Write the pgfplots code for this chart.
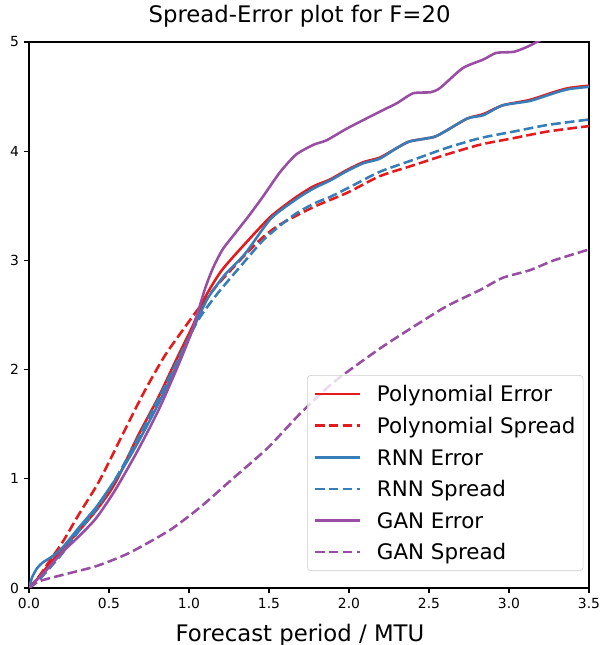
\documentclass[border=0pt]{standalone}
\usepackage{pgfplots}
\pgfplotsset{compat=1.18}
\usepackage{fontspec}
\setmainfont{DejaVu Sans}

\definecolor{polyred}{HTML}{E41A1C}
\definecolor{rnnblue}{HTML}{377EB8}
\definecolor{ganpurple}{HTML}{984EA3}

\begin{document}
\begin{tikzpicture}
\begin{axis}[
    scale only axis,
    width=403.2pt, height=393.1pt,
    xmin=0, xmax=3.5,
    ymin=0, ymax=5,
    xtick={0,0.5,1,1.5,2,2.5,3,3.5},
    ytick={0,1,2,3,4,5},
    xticklabel style={/pgf/number format/fixed, /pgf/number format/fixed zerofill,
        /pgf/number format/precision=1, yshift=-3.5pt},
    yticklabel style={xshift=-3.5pt},
    tick label style={font=\fontsize{10}{12}\selectfont, inner sep=0pt},
    /pgf/number format/assume math mode=true,
    tick align=outside,
    xtick pos=bottom, ytick pos=left,
    major tick length=3.5pt,
    every tick/.style={black, line width=0.8pt},
    axis line style={black, line width=0.8pt},
    title={Spread-Error plot for F=20},
    title style={at={(0.5,1)}, anchor=base, yshift=7.7pt, xshift=-6.8pt,
        font=\fontsize{16.4}{19}\selectfont, inner sep=0pt},
    xlabel={Forecast period / MTU},
    xlabel style={at={(0.5,0)}, anchor=base, yshift=-38.2pt, xshift=-6.5pt,
        font=\fontsize{16.4}{19}\selectfont, inner sep=0pt},
    legend cell align=left,
    legend image code/.code={\draw[#1, line width=1.85pt] (0pt,0pt) -- (32.8pt,0pt);},
    legend style={
        at={(0.9898,0.0311)}, anchor=south east,
        font=\fontsize{15.4}{18}\selectfont,
        draw=black!20, rounded corners=2.5pt,
        fill=white, fill opacity=0.8, draw opacity=1, text opacity=1,
        inner xsep=4.5pt, inner ysep=7pt,
        row sep=9.5pt,
        nodes={inner sep=1pt, text height=11.2pt, text depth=0pt},
        /tikz/every odd column/.append style={column sep=10pt},
    },
    every axis plot/.append style={line width=1.85pt, smooth, tension=0.4},
    dashpat/.style={dash pattern=on 7pt off 3pt},
]

% Polynomial Error
\addplot[polyred] coordinates {
(0,0)(0.05,0.08)(0.1,0.17)(0.21,0.36)(0.31,0.52)(0.42,0.71)(0.5,0.87)(0.56,1.02)
(0.68,1.39)(0.81,1.75)(0.93,2.12)(1.02,2.39)(1.10,2.66)(1.20,2.90)(1.33,3.12)
(1.51,3.40)(1.67,3.58)(1.78,3.68)(1.88,3.74)(1.99,3.83)(2.09,3.90)(2.19,3.94)
(2.30,4.03)(2.38,4.09)(2.53,4.13)(2.61,4.19)(2.74,4.30)(2.84,4.34)(2.96,4.42)
(3.13,4.47)(3.30,4.55)(3.38,4.58)(3.5,4.60)
};
\addlegendentry{Polynomial Error}

% Polynomial Spread
\addplot[polyred, dashpat] coordinates {
(0,0)(0.06,0.10)(0.125,0.24)(0.21,0.42)(0.31,0.67)(0.42,0.93)(0.475,1.08)
(0.60,1.45)(0.725,1.81)(0.85,2.13)(0.975,2.39)(1.06,2.56)(1.18,2.78)(1.35,3.05)
(1.46,3.21)(1.57,3.33)(1.78,3.49)(1.99,3.62)(2.19,3.77)(2.40,3.87)(2.61,3.97)
(2.82,4.06)(3.03,4.12)(3.24,4.18)(3.5,4.23)
};
\addlegendentry{Polynomial Spread}

% RNN Error
\addplot[rnnblue] coordinates {
(0,0)(0.02,0.10)(0.05,0.18)(0.083,0.23)(0.146,0.29)(0.21,0.37)(0.31,0.55)
(0.42,0.74)(0.52,0.95)(0.58,1.08)(0.68,1.33)(0.81,1.69)(0.93,2.06)(1.04,2.42)
(1.12,2.66)(1.225,2.87)(1.35,3.06)(1.51,3.38)(1.67,3.56)(1.78,3.66)(1.88,3.73)
(1.99,3.82)(2.09,3.89)(2.19,3.93)(2.30,4.03)(2.38,4.09)(2.53,4.13)(2.61,4.19)
(2.74,4.30)(2.84,4.33)(2.96,4.42)(3.13,4.46)(3.30,4.54)(3.38,4.57)(3.5,4.59)
};
\addlegendentry{RNN Error}

% RNN Spread
\addplot[rnnblue, dashpat] coordinates {
(0,0)(0.06,0.07)(0.21,0.32)(0.31,0.52)(0.42,0.72)(0.5,0.90)(0.6,1.15)(0.71,1.45)
(0.85,1.85)(0.95,2.15)(1.06,2.46)(1.18,2.70)(1.33,2.96)(1.46,3.18)(1.57,3.32)
(1.67,3.43)(1.78,3.52)(1.88,3.58)(1.99,3.66)(2.19,3.81)(2.40,3.92)(2.61,4.03)
(2.82,4.12)(3.03,4.18)(3.24,4.24)(3.5,4.29)
};
\addlegendentry{RNN Spread}

% GAN Error
\addplot[ganpurple] coordinates {
(0,0)(0.1,0.15)(0.21,0.33)(0.31,0.47)(0.42,0.64)(0.54,0.90)(0.68,1.26)(0.81,1.63)
(0.93,2.03)(1.02,2.36)(1.10,2.74)(1.15,2.93)(1.21,3.10)(1.30,3.27)(1.38,3.42)
(1.46,3.58)(1.57,3.81)(1.67,3.97)(1.78,4.06)(1.86,4.10)(1.99,4.21)(2.19,4.36)
(2.30,4.44)(2.40,4.53)(2.51,4.54)(2.57,4.58)(2.71,4.76)(2.84,4.84)(2.92,4.90)
(3.03,4.91)(3.12,4.96)(3.20,5.02)(3.35,5.12)(3.5,5.20)
};
\addlegendentry{GAN Error}

% GAN Spread
\addplot[ganpurple, dashpat] coordinates {
(0,0)(0.06,0.06)(0.21,0.12)(0.42,0.20)(0.625,0.32)(0.88,0.53)(1.07,0.74)
(1.28,1.01)(1.49,1.28)(1.69,1.59)(1.90,1.88)(2.19,2.19)(2.40,2.39)(2.61,2.58)
(2.82,2.73)(2.96,2.84)(3.13,2.91)(3.28,3.00)(3.5,3.10)
};
\addlegendentry{GAN Spread}

\end{axis}
\pgfresetboundingbox
\path[use as bounding box] ([xshift=-20.88pt,yshift=-41.04pt]current axis.south west)
    rectangle ([xshift=8.64pt,yshift=30.24pt]current axis.north east);
\end{tikzpicture}
\end{document}
